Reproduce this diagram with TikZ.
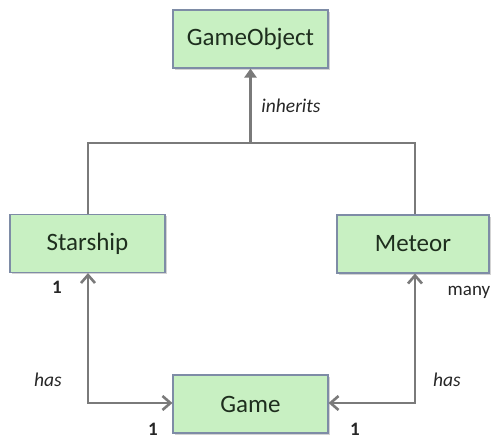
\documentclass[tikz,border=0pt]{standalone}
\usepackage{fontspec}
\setmainfont{Carlito}
\usetikzlibrary{arrows.meta,shadows}
\definecolor{boxfill}{HTML}{C8F0C2}
\definecolor{boxline}{HTML}{7E8CA6}
\definecolor{conn}{HTML}{7A7A7A}
\definecolor{txt}{HTML}{1E2E1E}
\tikzset{
  cls/.style={draw=boxline, line width=1.1pt, fill=boxfill, minimum height=58pt,
    font=\fontsize{25}{28}\selectfont, text=txt, inner sep=0pt,
    drop shadow={shadow xshift=1.5pt, shadow yshift=-1.5pt, opacity=0.35}},
  lbl/.style={font=\fontsize{19.5}{22}\selectfont\itshape, text=black!85, inner sep=0pt},
  num/.style={font=\fontsize{19}{22}\selectfont, text=black!85, inner sep=0pt},
  link/.style={draw=conn, line width=2.6pt},
}
\begin{document}
\begin{tikzpicture}[x=1pt,y=-1pt]
\useasboundingbox (0,0) rectangle (491,439);
\node[cls, minimum width=155pt] (go) at (250.5,39) {GameObject};
\node[cls, minimum width=155pt] (ship) at (87.5,243.5) {Starship};
\node[cls, minimum width=152pt] (met) at (413,244) {Meteor};
\node[cls, minimum width=155pt] (game) at (250.5,404) {Game};
\coordinate (j) at (250.5,143);
\coordinate (jl) at (88,143);
\coordinate (jr) at (415,143);
\coordinate (bl) at (88,403);
\coordinate (br) at (415,403);
\draw[link] (ship.north -| jl) -- (jl) -- (jr) -- (met.north -| jr);
\draw[link, -{Triangle[length=9pt,width=12pt]}] (j) -- (go.south);
\draw[link, {Straight Barb[length=8pt,width=14pt]}-{Straight Barb[length=8pt,width=14pt]}] (ship.south -| bl) -- (bl) -- (game.west |- bl);
\draw[link, {Straight Barb[length=8pt,width=14pt]}-{Straight Barb[length=8pt,width=14pt]}] (met.south -| br) -- (br) -- (game.east |- br);
\node[lbl] (inh) at (291,106) {inherits};
\node[num] (n1) at (57,287) {\bfseries 1};
\node[num] (nm) at (469,292) {many};
\node[lbl] (h1) at (48,380) {has};
\node[lbl] (h2) at (447,380) {has};
\node[num] (n2) at (153,429) {\bfseries 1};
\node[num] (n3) at (355,429) {\bfseries 1};
\end{tikzpicture}
\end{document}
